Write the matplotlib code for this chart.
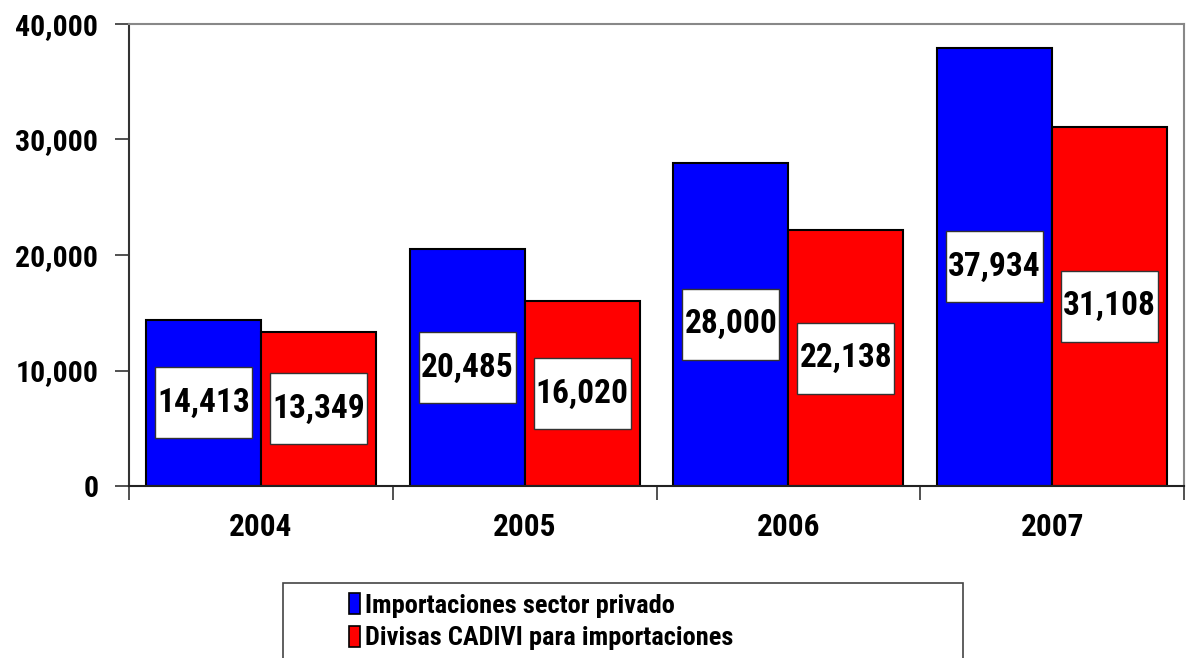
import matplotlib
matplotlib.use("Agg")
import matplotlib.pyplot as plt
from matplotlib.patches import Rectangle
from matplotlib.ticker import FuncFormatter
import numpy as np

# data
years = ['2004', '2005', '2006', '2007']
importaciones = [14413, 20485, 28000, 37934]
cadivi = [13349, 16020, 22138, 31108]
labels_imp = ['14,413', '20,485', '28,000', '37,934']
labels_cad = ['13,349', '16,020', '22,138', '31,108']
series_names = ['Importaciones sector privado', 'Divisas CADIVI para importaciones']

narrow = ['Roboto Condensed', 'Liberation Sans', 'DejaVu Sans']

fig = plt.figure(figsize=(11.89, 6.58), dpi=100)
ax = fig.add_axes([129/1189, 1-486/658, (1184-129)/1189, (486-24)/658])

x = np.arange(len(years))
w = 0.436
b1 = ax.bar(x - w/2, importaciones, w, color='#0000FF', edgecolor='black', linewidth=1.5, zorder=2)
b2 = ax.bar(x + w/2, cadivi, w, color='#FF0000', edgecolor='black', linewidth=1.5, zorder=2)

# white label boxes in the middle of each bar
box_w = 0.367
box_h = 6150
for xs, vals, labs in [(x - w/2, importaciones, labels_imp), (x + w/2, cadivi, labels_cad)]:
    for xi, v, lab in zip(xs, vals, labs):
        ax.add_patch(Rectangle((xi - box_w/2, v/2 - box_h/2), box_w, box_h,
                               facecolor='white', edgecolor='#333333', linewidth=1, zorder=3))
        ax.text(xi, v/2, lab, ha='center', va='center', fontsize=24, fontweight='bold',
                family=narrow, zorder=4)

ax.set_xlim(-0.5, len(years) - 0.5)
ax.set_ylim(0, 40000)
ax.set_yticks([0, 10000, 20000, 30000, 40000])
ax.yaxis.set_major_formatter(FuncFormatter(lambda v, p: f"{int(v):,}"))
for t in ax.get_yticklabels():
    t.set_fontsize(21.5)
    t.set_fontweight('bold')
    t.set_family(narrow)
ax.tick_params(axis='y', direction='out', length=10, width=1.2, color='#333333', pad=12)

# category boundaries as major ticks, labels on minor ticks
ax.set_xticks(np.arange(len(years) + 1) - 0.5)
ax.set_xticklabels([])
ax.set_xticks(x, minor=True)
ax.set_xticklabels(years, minor=True)
ax.tick_params(axis='x', which='major', direction='out', length=10, width=1.2, color='#333333')
ax.tick_params(axis='x', which='minor', length=0, pad=19)
for t in ax.get_xticklabels(minor=True):
    t.set_fontsize(22.5)
    t.set_fontweight('bold')
    t.set_family(narrow)

ax.spines['left'].set_color('#333333')
ax.spines['bottom'].set_color('#222222')
ax.spines['top'].set_color('#888888')
ax.spines['right'].set_color('#888888')
for s in ax.spines.values():
    s.set_linewidth(1.5)

# legend frame, running past the bottom of the figure
fig.patches.append(Rectangle((283/1189, -0.05), (963-283)/1189, 0.05 + (658-583)/658,
                             transform=fig.transFigure, facecolor='white',
                             edgecolor='#444444', linewidth=1.2, zorder=1))
leg = fig.legend([b1, b2], series_names, loc='upper left',
                 bbox_to_anchor=(349/1189, 1-593/658), frameon=False,
                 prop={'family': narrow, 'weight': 'bold', 'size': 19},
                 handlelength=0.4, handleheight=0.85, handletextpad=0.2,
                 labelspacing=0.3, borderpad=0, borderaxespad=0)
for h in leg.legend_handles:
    h.set_edgecolor('black')
    h.set_linewidth(1.2)

plt.savefig('out.png', dpi=100)
